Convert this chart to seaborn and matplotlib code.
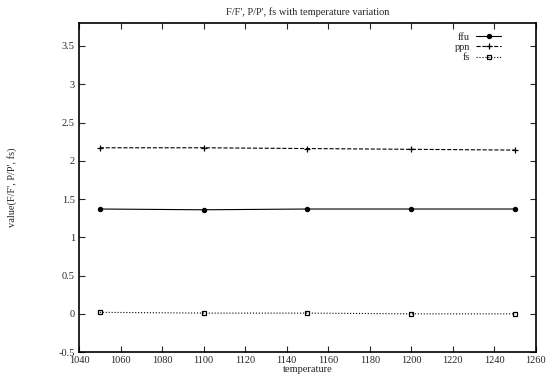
import pandas as pd
import seaborn as sns
import matplotlib.pyplot as plt

# dados
temperature = [1050, 1100, 1150, 1200, 1250]
ffu = [1.37, 1.36, 1.37, 1.37, 1.37]
ppn = [2.17, 2.17, 2.16, 2.15, 2.14]
fs = [0.02, 0.01, 0.01, 0.00, 0.00]

x_ticks = list(range(1040, 1261, 20))
y_ticks = [-0.5, 0, 0.5, 1, 1.5, 2, 2.5, 3, 3.5]

sns.set_style("ticks")
plt.rcParams['font.family'] = ['Liberation Serif', 'DejaVu Serif']
plt.rcParams['font.size'] = 7.5

fig = plt.figure(figsize=(5.49, 3.84), dpi=100)
ax = fig.add_axes([0.144, 0.083, 0.832, 0.857])

series = [
    ("ffu", ffu, "-", "o", "black", 3),
    ("ppn", ppn, "--", "+", "black", 4.5),
    ("fs", fs, ":", "s", "none", 3.5),
]
for nome, valores, ls, mk, mfc, ms in series:
    df = pd.DataFrame({"temperature": temperature, "value": valores})
    sns.lineplot(data=df, x="temperature", y="value", ax=ax, color="black",
                 linestyle=ls, linewidth=0.8, marker=mk, markersize=ms,
                 markerfacecolor=mfc, markeredgecolor="black",
                 markeredgewidth=0.9, label=nome)

ax.set_xlim(1040, 1260)
ax.set_ylim(-0.5, 3.8)
ax.set_xticks(x_ticks)
ax.set_yticks(y_ticks)
ax.set_yticklabels(["-0.5", "0", "0.5", "1", "1.5", "2", "2.5", "3", "3.5"])
ax.tick_params(direction="in", top=True, right=True, length=4, width=0.8, labelsize=7.5, pad=3)
for s in ax.spines.values():
    s.set_linewidth(1.2)
    s.set_color("black")

ax.set_title("F/F', P/P', fs with temperature variation", fontsize=7.5, pad=6)
ax.set_xlabel("temperature", fontsize=7.5, labelpad=0)
ax.set_ylabel("value(F/F', P/P', fs)", fontsize=7.5, labelpad=30)

ax.legend(loc="upper right", bbox_to_anchor=(0.945, 1.0), frameon=False,
          markerfirst=False, fontsize=7.5, handlelength=2.4,
          handletextpad=0.6, labelspacing=0.1)

fig.savefig("out.png", dpi=100)
